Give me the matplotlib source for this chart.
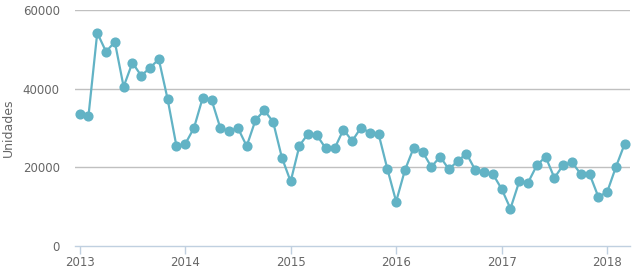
import numpy as np
import pandas as pd
import matplotlib
matplotlib.use("Agg")
import matplotlib.pyplot as plt

# monthly values, Jan 2013 .. Mar 2018
months = pd.date_range("2013-01-01", "2018-03-01", freq="MS")
units = [
    33600, 33000, 54200, 49400, 51900, 40500, 46600, 43300, 45300, 47500, 37400, 25500,  # 2013
    25900, 30000, 37700, 37200, 30000, 29200, 30000, 25400, 32000, 34500, 31600, 22500,  # 2014
    16400, 25500, 28600, 28100, 24800, 24800, 29600, 26700, 30100, 28800, 28500, 19600,  # 2015
    11300, 19300, 25000, 24000, 20100, 22700, 19500, 21600, 23500, 19300, 18700, 18300,  # 2016
    14500, 9500, 16400, 16100, 20500, 22700, 17300, 20600, 21300, 18300, 18300, 12500,   # 2017
    13700, 20100, 26000,                                                                 # 2018
]
year_ticks = ["2013", "2014", "2015", "2016", "2017", "2018"]
y_ticks = [0, 20000, 40000, 60000]

line_color = "#62b3c5"
label_color = "#666666"

x = np.arange(len(months))

fig = plt.figure(figsize=(6.38, 2.72), dpi=100)
ax = fig.add_axes([75 / 638, 1 - 246 / 272, 555 / 638, 236 / 272])

ax.plot(x, units, color=line_color, lw=1.6, marker="o", ms=6.3, zorder=3)

ax.set_xlim(-0.53, 62.6)
ax.set_ylim(0, 60000)

ax.set_yticks(y_ticks)
ax.set_yticklabels([str(v) for v in y_ticks])
ax.set_xticks([12 * i for i in range(len(year_ticks))])
ax.set_xticklabels(year_ticks)

for v in y_ticks[1:]:
    ax.axhline(v, color="#c0c0c0", lw=1, zorder=1)

for s in ["top", "right", "left"]:
    ax.spines[s].set_visible(False)
ax.spines["bottom"].set_color("#c0d0e0")
ax.spines["bottom"].set_linewidth(1)

ax.tick_params(axis="y", length=0, pad=11, labelsize=8.5, labelcolor=label_color)
ax.tick_params(axis="x", length=5.8, width=1, color="#c0d0e0", pad=1.5,
               labelsize=8.5, labelcolor=label_color)

ax.set_ylabel("Unidades", fontsize=9, color=label_color)
ax.yaxis.set_label_coords(-0.108, 0.5)

fig.savefig("out.png", dpi=100)
